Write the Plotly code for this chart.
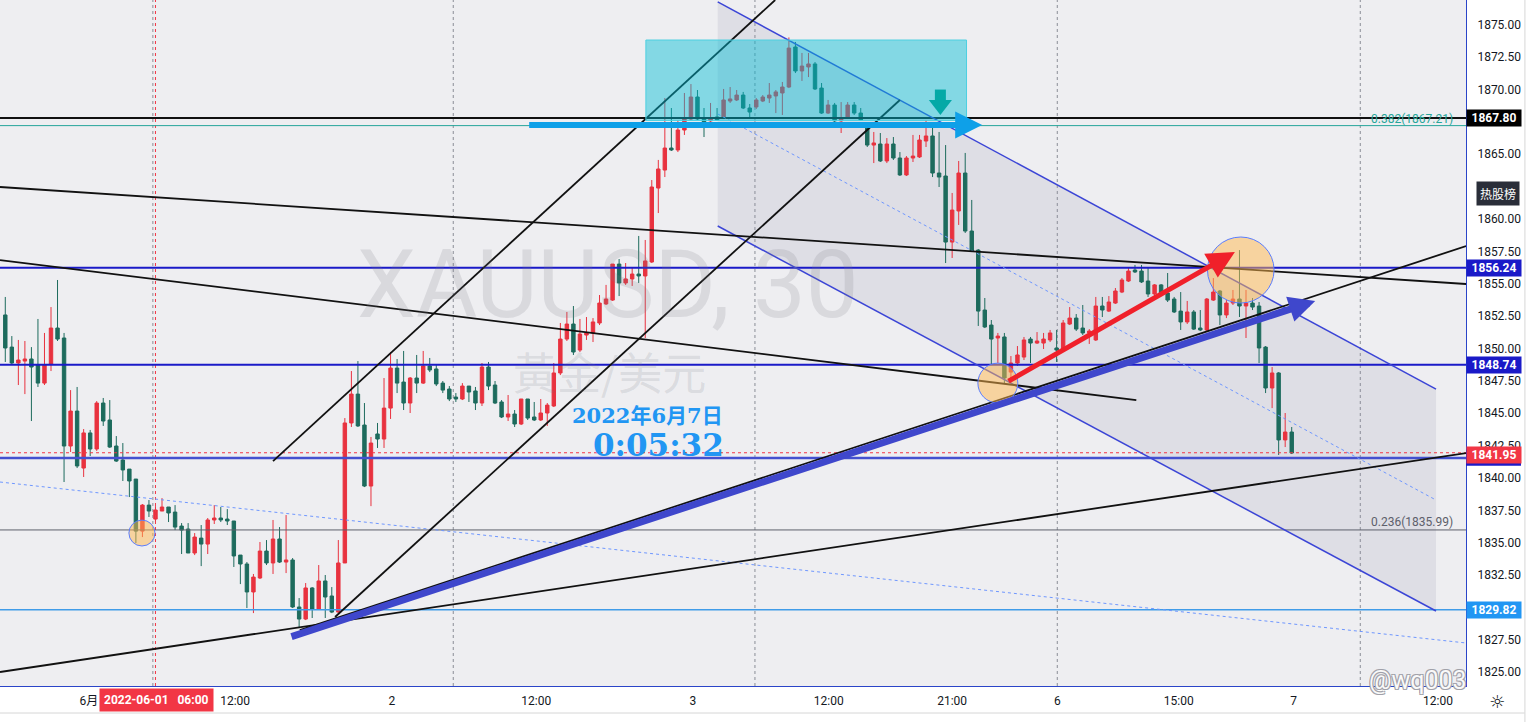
import plotly.graph_objects as go

# ---------------- data (XAUUSD 30m) ----------------
opens = [1852.59,1850.11,1848.88,1849.03,1849.19,1848.72,1847.33,1848.80,1851.58,1850.81,
1842.47,1845.17,1840.77,1843.48,1842.24,1845.79,1844.48,1842.47,1841.39,1840.69,
1839.92,1835.90,1837.91,1836.83,1837.45,1837.76,1837.37,1836.29,1836.06,1834.21,
1835.36,1834.90,1836.76,1836.91,1836.83,1836.68,1834.05,1833.36,1831.20,1832.28,
1834.36,1833.44,1835.29,1833.51,1833.67,1830.04,1829.11,1831.51,1829.88,1832.05,
1830.89,1829.65,1833.44,1844.25,1846.48,1844.09,1839.38,1843.40,1843.01,1845.40,
1848.49,1847.41,1845.79,1847.72,1847.33,1848.65,1848.42,1847.33,1846.87,1846.25,
1846.10,1847.10,1846.72,1845.79,1848.57,1847.18,1845.87,1844.71,1844.94,1844.17,
1846.10,1844.71,1844.48,1845.02,1845.56,1848.11,1850.73,1851.89,1849.88,1851.04,
1851.20,1851.97,1853.44,1853.74,1856.52,1855.06,1855.37,1855.75,1855.60,1856.68,
1862.39,1863.78,1865.48,1865.33,1866.87,1867.72,1869.42,1867.72,1867.57,1867.88,
1867.88,1869.11,1869.19,1869.57,1868.57,1868.65,1869.11,1869.34,1869.50,1869.73,
1870.19,1873.28,1871.43,1871.74,1871.97,1870.11,1868.18,1868.80,1867.57,1867.80,
1868.80,1868.18,1867.03,1865.71,1865.79,1864.48,1865.79,1864.71,1863.40,1864.71,
1864.79,1866.02,1866.41,1863.55,1863.32,1858.22,1860.62,1863.55,1859.07,1857.60,
1852.97,1851.81,1850.81,1850.89,1848.18,1848.88,1849.34,1850.73,1850.42,1850.42,
1850.66,1850.04,1849.96,1851.89,1852.35,1851.58,1851.20,1850.66,1853.28,1852.89,
1853.51,1854.36,1855.21,1856.06,1855.98,1855.21,1854.21,1854.91,1854.28,1853.82,
1852.89,1852.05,1852.82,1851.58,1851.43,1853.74,1854.44,1852.59,1853.51,1853.82,
1853.28,1853.51,1853.28,1850.11,1846.95,1848.11,1842.94,1843.55]
highs = [1853.98,1850.96,1850.66,1850.58,1850.11,1852.28,1851.20,1853.20,1855.29,1851.20,
1846.79,1847.03,1843.78,1843.71,1845.94,1846.18,1846.02,1843.24,1842.70,1840.69,
1839.92,1837.99,1838.30,1837.83,1838.45,1837.76,1837.91,1836.52,1836.52,1835.75,
1836.37,1836.91,1837.91,1837.76,1837.60,1836.68,1834.05,1833.51,1832.59,1835.06,
1835.21,1836.76,1836.21,1837.14,1833.82,1830.73,1831.89,1831.58,1833.28,1832.51,
1831.58,1835.21,1844.63,1848.26,1849.03,1845.79,1843.17,1844.25,1847.72,1849.73,
1849.19,1849.81,1847.80,1849.50,1849.81,1849.27,1848.72,1847.49,1847.10,1846.56,
1847.33,1847.10,1847.03,1848.88,1848.96,1847.49,1846.02,1846.41,1845.25,1846.10,
1846.10,1845.87,1846.10,1845.79,1848.88,1851.97,1852.82,1853.28,1852.28,1852.43,
1852.35,1854.13,1854.91,1856.52,1856.91,1856.60,1856.29,1858.69,1858.38,1863.01,
1864.56,1869.34,1868.57,1867.64,1869.73,1870.42,1869.96,1868.57,1868.96,1868.57,
1870.04,1870.19,1869.96,1869.81,1868.88,1869.34,1869.57,1870.50,1869.96,1870.58,
1874.02,1873.67,1872.82,1872.82,1872.12,1870.50,1869.19,1868.96,1869.03,1869.03,
1869.03,1868.57,1867.41,1866.72,1866.64,1866.25,1866.33,1865.17,1864.86,1866.49,
1866.49,1867.64,1867.49,1866.72,1865.71,1862.01,1864.48,1865.10,1861.47,1857.68,
1853.90,1852.20,1851.20,1851.20,1849.42,1850.19,1850.89,1850.89,1851.27,1851.20,
1851.43,1851.43,1852.20,1853.20,1852.66,1853.36,1851.50,1853.98,1853.98,1854.05,
1854.67,1855.44,1856.22,1856.45,1856.45,1856.22,1854.98,1854.98,1855.83,1853.98,
1854.36,1853.67,1852.97,1852.97,1853.90,1855.44,1854.52,1853.74,1854.52,1857.60,
1854.52,1853.90,1853.59,1850.19,1848.57,1848.18,1845.02,1843.94]
lows = [1848.96,1848.80,1847.18,1846.48,1844.40,1847.03,1847.18,1848.26,1850.58,1839.69,
1842.01,1840.77,1840.08,1841.70,1842.09,1844.02,1842.32,1841.24,1839.77,1838.53,
1834.98,1835.44,1836.99,1836.60,1837.45,1836.60,1835.98,1834.13,1834.21,1834.05,
1833.20,1834.13,1836.45,1836.60,1836.37,1833.13,1831.81,1829.96,1829.57,1832.20,
1833.28,1832.59,1833.44,1832.66,1829.96,1828.49,1829.03,1829.19,1829.81,1829.19,
1829.57,1829.57,1833.44,1843.94,1843.94,1839.30,1837.83,1842.32,1842.32,1844.56,
1846.56,1845.25,1845.02,1846.56,1847.26,1848.18,1847.10,1846.56,1845.94,1845.87,
1846.02,1845.87,1845.25,1845.56,1846.79,1845.71,1844.63,1844.40,1843.94,1844.09,
1844.48,1844.40,1844.40,1844.02,1845.48,1847.95,1850.58,1849.50,1849.73,1850.66,
1850.50,1851.81,1853.36,1853.67,1854.05,1854.91,1854.83,1855.06,1850.81,1856.60,
1860.46,1863.24,1865.25,1865.17,1866.49,1867.64,1867.64,1866.33,1867.49,1867.57,
1867.80,1868.96,1869.11,1868.49,1867.80,1868.49,1869.03,1868.96,1868.18,1868.03,
1870.11,1871.27,1870.66,1870.96,1869.96,1868.11,1868.11,1867.49,1866.64,1867.72,
1868.03,1867.57,1865.56,1864.32,1864.40,1864.32,1864.56,1863.32,1863.32,1864.40,
1864.71,1865.56,1863.24,1862.47,1856.60,1856.99,1859.54,1858.92,1857.45,1851.74,
1851.58,1848.72,1848.88,1847.33,1847.57,1848.65,1849.11,1848.88,1850.35,1849.96,
1850.50,1848.96,1849.73,1851.81,1851.35,1851.04,1850.35,1850.58,1852.43,1852.82,
1853.44,1854.28,1855.14,1855.83,1855.06,1853.98,1854.05,1854.05,1853.59,1852.74,
1851.43,1851.89,1851.43,1851.35,1851.27,1853.67,1851.81,1852.35,1853.36,1852.43,
1850.81,1852.97,1848.88,1846.56,1845.40,1841.78,1842.39,1841.85]
closes = [1850.04,1848.88,1849.11,1849.19,1848.57,1847.33,1848.72,1851.58,1850.73,1842.47,
1845.17,1840.93,1843.48,1842.24,1845.79,1844.40,1842.39,1841.31,1840.62,1839.77,
1835.90,1837.91,1837.45,1837.53,1837.76,1837.30,1836.21,1835.98,1834.21,1835.44,
1834.90,1836.76,1836.91,1836.76,1836.68,1833.98,1833.36,1831.20,1832.35,1834.36,
1833.44,1835.29,1833.51,1833.67,1830.04,1829.11,1831.51,1829.88,1832.05,1830.81,
1829.65,1833.44,1844.25,1846.48,1844.02,1839.38,1842.70,1843.01,1845.40,1848.49,
1847.33,1845.79,1847.72,1847.33,1848.65,1848.34,1847.26,1846.79,1846.10,1846.10,
1847.10,1846.64,1845.79,1848.57,1847.10,1845.79,1844.71,1844.94,1844.17,1846.10,
1844.63,1844.48,1845.02,1845.63,1848.11,1850.73,1851.89,1849.73,1851.12,1851.20,
1852.05,1853.51,1853.82,1856.52,1855.06,1855.37,1855.75,1855.60,1856.76,1862.47,
1863.86,1865.48,1865.33,1866.87,1867.72,1869.42,1867.72,1867.49,1867.72,1867.64,
1869.19,1869.27,1869.57,1868.57,1868.26,1869.19,1869.42,1869.57,1869.81,1870.19,
1873.20,1871.43,1871.81,1871.97,1870.04,1868.18,1868.80,1867.57,1867.80,1868.80,
1868.18,1867.64,1865.71,1865.87,1864.48,1865.79,1864.71,1863.40,1864.71,1864.86,
1866.10,1866.41,1863.55,1863.24,1858.22,1860.69,1863.55,1859.07,1857.53,1852.89,
1851.66,1850.73,1850.96,1847.72,1848.88,1849.50,1850.66,1850.42,1850.58,1850.73,
1851.20,1849.88,1851.97,1852.35,1851.50,1851.20,1851.35,1853.28,1852.97,1853.59,
1854.44,1855.29,1855.98,1855.91,1855.14,1854.21,1854.91,1854.28,1853.74,1852.82,
1852.05,1852.82,1851.50,1851.43,1853.82,1854.36,1852.59,1853.51,1853.82,1853.28,
1853.51,1853.20,1850.04,1846.95,1848.11,1842.94,1843.55,1841.93]
bar_index = list(range(len(opens)))

# time axis labels (bar positions)
time_tick_pos = [12.8, 35.2, 59.2, 81.3, 105.3, 126.1, 145.0, 161.1, 179.7, 197.3, 219.4]
time_tick_text = ["6月", "12:00", "2", "12:00", "3", "12:00", "21:00", "6", "15:00", "7", "12:00"]
session_lines = [22.6, 68.6, 114.8, 161.1, 207.5]

# price axis ticks (1830.00, 1862.50 and 1867.50 are hidden behind labels in the original)
price_ticks = [1825.0, 1827.5, 1832.5, 1835.0, 1837.5, 1840.0, 1842.5, 1845.0, 1847.5, 1850.0,
               1852.5, 1855.0, 1857.5, 1860.0, 1865.0, 1870.0, 1872.5, 1875.0]
price_tick_text = ["%.2f" % v for v in price_ticks]

# horizontal levels
level_black = 1867.80
fib_382 = 1867.21
fib_236 = 1835.99
level_blue_hi = 1856.24
level_blue_mid = 1848.74
level_blue_low = 1841.55
level_last = 1841.95
level_light = 1829.82

# drawings (bar index, price)
up_channel_a = [(41.0, 1841.31), (117.9, 1876.91)]
up_channel_b = [(50.5, 1829.27), (137.0, 1869.19)]
trend_desc_1 = [(-0.81, 1862.47), (223.7, 1854.98)]
trend_desc_2 = [(-0.81, 1856.83), (173.2, 1846.02)]
trend_asc_1 = [(-0.81, 1825.02), (223.7, 1841.93)]
trend_asc_2 = [(45.1, 1828.26), (223.7, 1857.91)]
dotted_desc = [(-0.81, 1839.69), (223.7, 1827.26)]
chan_upper = [(109.1, 1876.76), (219.1, 1846.87)]
chan_lower = [(109.1, 1859.46), (219.1, 1829.73)]
box_x = [98.1, 147.2]
box_y = [1867.6, 1873.82]
arrow_h = [(80.0, 1867.26), (149.6, 1867.26)]
arrow_blue = [(43.6, 1827.72), (200.6, 1853.67)]
arrow_red = [(153.4, 1847.41), (188.3, 1857.45)]
circles = [(20.93, 1835.75, 2.0, 1.0), (152.0, 1847.33, 3.06, 1.54), (189.2, 1856.06, 5.1, 2.55)]
down_marker = (143.2, 1869.57, 1868.80)

X_RANGE = [-0.81, 223.69]
Y_RANGE = [1823.94, 1876.91]

RED = "#e8323f"
GREEN = "#1d6b5d"
DBLUE = "#1a1ac8"

fig = go.Figure()

fig.add_trace(go.Candlestick(
    x=bar_index, open=opens, high=highs, low=lows, close=closes,
    increasing=dict(line=dict(color=RED, width=1), fillcolor=RED),
    decreasing=dict(line=dict(color=GREEN, width=1), fillcolor=GREEN),
    whiskerwidth=0, showlegend=False, hoverinfo="skip"))

# down arrow marker
fig.add_trace(go.Scatter(x=[down_marker[0]], y=[down_marker[1]], mode="markers",
                         marker=dict(symbol="square", size=11, color="#089981"),
                         showlegend=False, hoverinfo="skip"))
fig.add_trace(go.Scatter(x=[down_marker[0]], y=[down_marker[2]], mode="markers",
                         marker=dict(symbol="triangle-down", size=20, color="#089981"),
                         showlegend=False, hoverinfo="skip"))

shapes = []

def seg(p, color, width, dash="solid", layer="above"):
    shapes.append(dict(type="line", xref="x", yref="y", x0=p[0][0], y0=p[0][1],
                       x1=p[1][0], y1=p[1][1], line=dict(color=color, width=width, dash=dash),
                       layer=layer))

def hline(y, color, width, dash="solid", layer="above"):
    shapes.append(dict(type="line", xref="paper", yref="y", x0=0, x1=1, y0=y, y1=y,
                       line=dict(color=color, width=width, dash=dash), layer=layer))

# session separators
for sx in session_lines:
    shapes.append(dict(type="line", xref="x", yref="paper", x0=sx, x1=sx, y0=0, y1=1,
                       line=dict(color="#8a8d96", width=1, dash="dot"), layer="below"))

# channel fill
path = "M %f,%f L %f,%f L %f,%f L %f,%f Z" % (
    chan_upper[0][0], chan_upper[0][1], chan_upper[1][0], chan_upper[1][1],
    chan_lower[1][0], chan_lower[1][1], chan_lower[0][0], chan_lower[0][1])
shapes.append(dict(type="path", xref="x", yref="y", path=path,
                   fillcolor="rgba(140,140,170,0.16)", line=dict(width=0), layer="below"))

# crosshair
shapes.append(dict(type="line", xref="x", yref="paper", x0=23.0, x1=23.0, y0=0, y1=1,
                   line=dict(color="#f23645", width=1, dash="dot"), layer="above"))
hline(level_last, "#f23645", 1, "dot")

hline(fib_382, "#26a69a", 1)
hline(level_black, "#111111", 2)
hline(level_blue_hi, DBLUE, 2)
hline(level_blue_mid, DBLUE, 2)
hline(level_blue_low, "#4450cf", 2.5)
hline(fib_236, "#5d606b", 1)
hline(level_light, "#3f9be8", 1.5)

seg(dotted_desc, "#6f97ff", 1, "dot")
seg(chan_upper, "#3b45d6", 1.5)
seg(chan_lower, "#3b45d6", 1.5)
mid = [((chan_upper[0][0]), (chan_upper[0][1] + chan_lower[0][1]) / 2),
       ((chan_upper[1][0]), (chan_upper[1][1] + chan_lower[1][1]) / 2)]
seg(mid, "#6f97ff", 1, "dot")

for ln in (up_channel_a, up_channel_b, trend_desc_1, trend_desc_2, trend_asc_1, trend_asc_2):
    seg(ln, "#111111", 1.8)

# cyan box
shapes.append(dict(type="rect", xref="x", yref="y", x0=box_x[0], x1=box_x[1], y0=box_y[0], y1=box_y[1],
                   fillcolor="rgba(0,188,212,0.45)", line=dict(color="#4dd0e1", width=1), layer="above"))

# circles
for cx, cy, rx, ry in circles:
    shapes.append(dict(type="circle", xref="x", yref="y", x0=cx - rx, x1=cx + rx, y0=cy - ry, y1=cy + ry,
                       fillcolor="rgba(255,183,77,0.5)", line=dict(color="#5a7dff", width=1), layer="above"))

# blue level tag mostly hidden behind the last-price tag
shapes.append(dict(type="rect", xref="paper", yref="y", x0=1.0, x1=1.0375, y0=1840.95, y1=1842.2,
                   fillcolor=DBLUE, line=dict(width=0), layer="above"))

# frame lines outside plot
shapes.append(dict(type="line", xref="paper", yref="paper", x0=1.0402, x1=1.0402, y0=-0.06, y1=1,
                   line=dict(color="#d6d6d6", width=1), layer="above"))
shapes.append(dict(type="line", xref="paper", yref="paper", x0=0, x1=1.04, y0=-0.0394, y1=-0.0394,
                   line=dict(color="#d6d6d6", width=1), layer="above"))

annotations = []

def arrow(p, color, width, size):
    annotations.append(dict(x=p[1][0], y=p[1][1], ax=p[0][0], ay=p[0][1], xref="x", yref="y",
                            axref="x", ayref="y", text="", showarrow=True, arrowhead=2,
                            arrowsize=size, arrowwidth=width, arrowcolor=color))

arrow(arrow_h, "#0ea0e8", 6, 0.9)
arrow(arrow_blue, "#3f47cc", 7, 0.75)
arrow(arrow_red, "#f0202a", 5, 1.1)

# watermark texts
annotations.append(dict(x=92.3, y=1854.9, xref="x", yref="y", text="XAUUSD, 30", showarrow=False,
                        font=dict(family="Roboto", size=94, color="rgba(120,123,134,0.18)")))
annotations.append(dict(x=92.6, y=1848.3, xref="x", yref="y", text="黃金/美元", showarrow=False,
                        font=dict(family="Noto Sans CJK TC", size=44, color="rgba(120,123,134,0.18)")))
annotations.append(dict(x=98.4, y=1844.86, xref="x", yref="y", text="<b>2022年6月7日</b>", showarrow=False,
                        font=dict(family="DejaVu Serif, Noto Sans CJK SC", size=21, color="#2196f3")))
annotations.append(dict(x=100.0, y=1842.55, xref="x", yref="y", text="<b>0:05:32</b>", showarrow=False,
                        font=dict(family="DejaVu Serif", size=31, color="#2196f3")))

# fib labels
annotations.append(dict(x=0.9925, y=fib_382, xref="paper", yref="y", xanchor="right", yanchor="bottom",
                        text="0.382(1867.21)", showarrow=False, yshift=-2,
                        font=dict(family="Roboto", size=12, color="#26a69a")))
annotations.append(dict(x=0.9925, y=fib_236, xref="paper", yref="y", xanchor="right", yanchor="bottom",
                        text="0.236(1835.99)", showarrow=False, yshift=-1,
                        font=dict(family="Roboto", size=12, color="#5d606b")))

# price axis label boxes
def pbox(y, txt, bg, yshift=0):
    annotations.append(dict(x=1, y=y, xref="paper", yref="y", xanchor="left", text="<b>%s</b>" % txt,
                            showarrow=False, bgcolor=bg, borderpad=1, width=52, yshift=yshift,
                            font=dict(family="Roboto", size=12, color="white")))

pbox(level_black, "1867.80", "#000000")
pbox(level_blue_hi, "1856.24", DBLUE)
pbox(level_blue_mid, "1848.74", DBLUE)
pbox(level_last, "1841.95", "#f23645", -2)
pbox(level_light, "1829.82", "#2196f3")
annotations.append(dict(x=1.0065, y=1861.95, xref="paper", yref="y", xanchor="left", text="热股榜",
                        showarrow=False, bgcolor="#2a2e39", borderpad=3,
                        font=dict(family="Noto Sans CJK SC", size=12, color="white")))

# time axis crosshair label
annotations.append(dict(x=23.2, y=0, xref="x", yref="paper", yanchor="top", yshift=-2,
                        text="<b>2022-06-01   06:00</b>", showarrow=False, bgcolor="#f23645", borderpad=4,
                        font=dict(family="Roboto", size=12, color="white")))

# corner watermark & gear
annotations.append(dict(x=0.9673, y=0.0087, xref="paper", yref="paper", xanchor="center", yanchor="middle",
                        text="@wq003", showarrow=False,
                        font=dict(family="Roboto", size=25, color="rgba(255,255,255,0.95)",
                                  shadow="-1px -1px 0 #a0a0a8, 1px -1px 0 #a0a0a8, -1px 1px 0 #a0a0a8, 1px 1px 0 #a0a0a8")))
annotations.append(dict(x=1.0211, y=-0.0233, xref="paper", yref="paper", xanchor="center", yanchor="middle",
                        text="☼", showarrow=False,
                        font=dict(family="DejaVu Sans", size=18, color="#131722")))

fig.update_layout(
    width=1529, height=722,
    margin=dict(l=0, r=63, t=0, b=36),
    paper_bgcolor="white", plot_bgcolor="#eeeef1",
    shapes=shapes, annotations=annotations,
    showlegend=False, boxgap=0.25,
    xaxis=dict(range=X_RANGE, rangeslider=dict(visible=False), showgrid=False, zeroline=False,
               tickmode="array", tickvals=time_tick_pos, ticktext=time_tick_text,
               tickfont=dict(family="Roboto, Noto Sans CJK SC", size=12, color="#131722"),
               showline=True, linecolor="#2a44c8", linewidth=1, ticks="", ticklabelstandoff=4),
    yaxis=dict(range=Y_RANGE, side="right", showgrid=False, zeroline=False,
               tickmode="array", tickvals=price_ticks, ticktext=price_tick_text,
               tickfont=dict(family="Roboto", size=12, color="#131722"),
               showline=True, linecolor="#2a44c8", linewidth=1, ticks="", ticklabelstandoff=8),
)

fig.write_html("out.html", config={"displayModeBar": False},
               post_script="document.body.style.margin='0';document.body.style.overflow='hidden';")
